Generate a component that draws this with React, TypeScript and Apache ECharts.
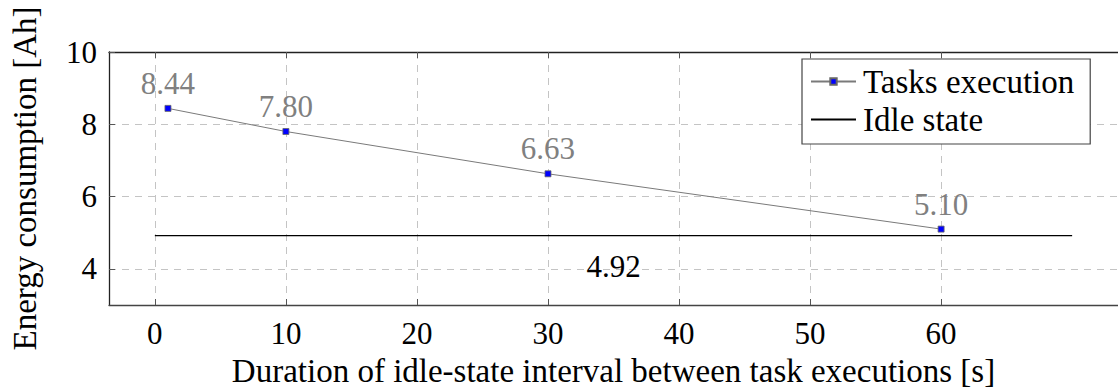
import React, { useEffect, useRef } from "react";
import * as echarts from "echarts";

const taskX = [1, 10, 30, 60];
const taskY = [8.44, 7.8, 6.63, 5.1];
const idleX = [0, 70];
const idleY = [4.92, 4.92];
const idleLabelX = 35;
const xTicks = [0, 10, 20, 30, 40, 50, 60];
const yTicks = [4, 6, 8, 10];
const seriesNames = ["Tasks execution", "Idle state"];
const xTitle = "Duration of idle-state interval between task executions [s]";
const yTitle = "Energy consumption [Ah]";

const FONT = "'Liberation Serif', serif";

export default function App() {
  const ref = useRef<HTMLDivElement>(null);
  useEffect(() => {
    if (!ref.current) return;
    const chart = echarts.init(ref.current, null, { renderer: "svg" });
    const gridColor = "#c4c4c4";
    const tickStyle = { show: true, inside: true, length: 6, lineStyle: { color: "#555", width: 1 } };
    chart.setOption({
      animation: false,
      backgroundColor: "#fff",
      textStyle: { fontFamily: FONT },
      grid: { left: 107, top: 52, width: 1014, height: 255, containLabel: false },
      legend: {
        orient: "vertical",
        left: 802,
        top: 59,
        padding: [6, 16, 8, 8],
        itemGap: 5,
        itemWidth: 45,
        itemHeight: 8,
        borderColor: "#444",
        borderWidth: 1.2,
        backgroundColor: "#fff",
        textStyle: { fontFamily: FONT, fontSize: 33, lineHeight: 33, color: "#000", padding: [0, 0, 0, 2] },
        data: [
          { name: seriesNames[0] },
          { name: seriesNames[1], itemStyle: { opacity: 0 } },
        ],
      },
      xAxis: [
        {
          type: "value",
          min: -3.5,
          max: 73.5,
          position: "bottom",
          axisLine: { show: true, onZero: false, lineStyle: { color: "#444", width: 1.3 } },
          axisTick: { ...tickStyle, customValues: xTicks },
          axisLabel: { customValues: xTicks, fontFamily: FONT, fontSize: 31, color: "#000", margin: 13 },
          splitLine: { show: true, lineStyle: { color: gridColor, type: [7, 6], width: 1 } },
          name: xTitle,
          nameLocation: "middle",
          nameGap: 49,
          nameTextStyle: { fontFamily: FONT, fontSize: 33, color: "#000" },
        },
        {
          type: "value",
          min: -3.5,
          max: 73.5,
          position: "top",
          axisLine: { show: true, onZero: false, lineStyle: { color: "#222", width: 1.3 } },
          axisTick: { ...tickStyle, customValues: xTicks },
          axisLabel: { show: false },
          splitLine: { show: false },
        },
      ],
      yAxis: {
        type: "value",
        min: 3,
        max: 10,
        axisLine: { show: true, onZero: false, lineStyle: { color: "#222", width: 1.3 } },
        axisTick: { ...tickStyle, customValues: yTicks },
        axisLabel: { customValues: yTicks, fontFamily: FONT, fontSize: 31, color: "#000", margin: 12 },
        splitLine: { show: true, lineStyle: { color: gridColor, type: [7, 6], width: 1 } },
        name: yTitle,
        nameLocation: "middle",
        nameGap: 68,
        nameTextStyle: { fontFamily: FONT, fontSize: 33, color: "#000" },
      },
      series: [
        {
          name: seriesNames[0],
          type: "line",
          xAxisIndex: 0,
          data: taskX.map((x, i) => [x, taskY[i]]),
          symbol: "rect",
          symbolSize: 6,
          showSymbol: true,
          lineStyle: { color: "#7a7a7a", width: 1 },
          itemStyle: { color: "#0000ff", borderColor: "#666", borderWidth: 0.8 },
          label: {
            show: true,
            position: "top",
            distance: 6,
            fontFamily: FONT,
            fontSize: 31,
            color: "#808080",
            formatter: (p: any) => Number(p.value[1]).toFixed(2),
          },
          z: 3,
        },
        {
          name: seriesNames[1],
          type: "line",
          xAxisIndex: 0,
          data: idleX.map((x, i) => [x, idleY[i]]),
          symbol: "none",
          lineStyle: { color: "#000", width: 1.3 },
          itemStyle: { color: "#000" },
          markPoint: {
            symbol: "circle",
            symbolSize: 0,
            data: [{ coord: [idleLabelX, idleY[0]], value: idleY[0] }],
            label: {
              show: true,
              position: "inside",
              offset: [0, 31],
              fontFamily: FONT,
              fontSize: 31,
              color: "#000",
              formatter: (p: any) => Number(p.value).toFixed(2),
            },
          },
          z: 2,
        },
      ],
    });
    return () => chart.dispose();
  }, []);
  return (
    <div
      ref={ref}
      style={{ position: "absolute", left: 0, top: 0, width: 1118, height: 392 }}
    />
  );
}
